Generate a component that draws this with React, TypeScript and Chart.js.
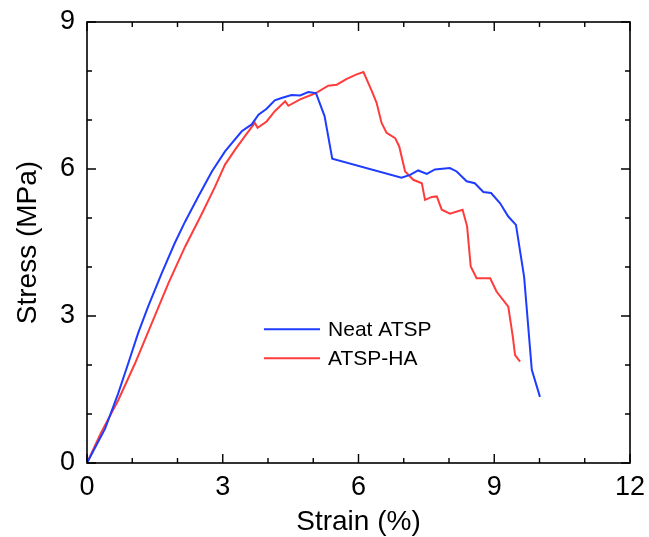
import React, { useEffect, useRef } from "react";
import { Chart, registerables } from "chart.js";

Chart.register(...registerables);

const seriesLabels = ["Neat ATSP", "ATSP-HA"];
const seriesColors = ["rgb(30,60,255)", "rgb(255,60,60)"];

const neatStrain = [0, 0.4, 0.69, 0.91, 1.13, 1.35, 1.65, 1.94, 2.17, 2.46, 2.76, 3.05, 3.42, 3.64, 3.79, 3.97, 4.15, 4.3, 4.52, 4.71, 4.89, 5.06, 5.25, 5.42, 6.95, 7.14, 7.32, 7.51, 7.69, 8.02, 8.17, 8.39, 8.57, 8.76, 8.93, 9.13, 9.31, 9.48, 9.66, 9.83, 10.01];
const neatStress = [0, 0.7, 1.42, 2.03, 2.65, 3.19, 3.87, 4.49, 4.93, 5.44, 5.95, 6.36, 6.77, 6.91, 7.11, 7.23, 7.4, 7.45, 7.51, 7.5, 7.57, 7.55, 7.08, 6.21, 5.82, 5.88, 5.97, 5.9, 5.99, 6.02, 5.95, 5.75, 5.71, 5.53, 5.51, 5.3, 5.03, 4.86, 3.8, 1.9, 1.35];

const haStrain = [0, 0.3, 0.69, 1.06, 1.43, 1.8, 2.17, 2.53, 2.83, 3.05, 3.27, 3.49, 3.71, 3.77, 3.97, 4.15, 4.38, 4.45, 4.71, 5.06, 5.33, 5.52, 5.74, 5.96, 6.11, 6.29, 6.4, 6.51, 6.62, 6.81, 6.9, 7.03, 7.21, 7.4, 7.47, 7.62, 7.73, 7.84, 8.02, 8.3, 8.4, 8.48, 8.61, 8.91, 9.05, 9.31, 9.41, 9.46, 9.57];
const haStress = [0, 0.6, 1.28, 2.03, 2.85, 3.67, 4.42, 5.07, 5.64, 6.09, 6.39, 6.67, 6.94, 6.84, 6.97, 7.18, 7.38, 7.29, 7.42, 7.55, 7.7, 7.72, 7.84, 7.93, 7.98, 7.6, 7.35, 6.94, 6.74, 6.63, 6.46, 5.95, 5.78, 5.71, 5.37, 5.43, 5.44, 5.17, 5.09, 5.17, 4.83, 4.01, 3.77, 3.77, 3.5, 3.19, 2.58, 2.2, 2.07];

const xTitle = "Strain (%)";
const yTitle = "Stress (MPa)";
const xMin = 0, xMax = 12, xStep = 3;
const yMin = 0, yMax = 9, yStep = 3;

const FONT = "'Liberation Sans', Arial, sans-serif";

const framePlugin = {
  id: "frameTicks",
  afterDraw(chart: any) {
    const { ctx, chartArea } = chart;
    const xs = chart.scales.x;
    const ys = chart.scales.y;
    const { left, right, top, bottom } = chartArea;
    ctx.save();
    ctx.strokeStyle = "#000";
    ctx.lineWidth = 1.6;
    ctx.strokeRect(left, top, right - left, bottom - top);
    ctx.lineWidth = 1.4;
    for (let v = xMin; v <= xMax; v += 1) {
      const px = xs.getPixelForValue(v);
      const len = v % xStep === 0 ? 9 : 5;
      ctx.beginPath();
      ctx.moveTo(px, bottom);
      ctx.lineTo(px, bottom - len);
      ctx.moveTo(px, top);
      ctx.lineTo(px, top + len);
      ctx.stroke();
    }
    for (let v = yMin; v <= yMax; v += 1) {
      const py = ys.getPixelForValue(v);
      const len = v % yStep === 0 ? 9 : 5;
      ctx.beginPath();
      ctx.moveTo(left, py);
      ctx.lineTo(left + len, py);
      ctx.moveTo(right, py);
      ctx.lineTo(right - len, py);
      ctx.stroke();
    }
    // legend inside plot
    const lx0 = xs.getPixelForValue(3.91);
    const lx1 = xs.getPixelForValue(5.15);
    const ly = ys.getPixelForValue(2.73);
    ctx.font = `21px ${FONT}`;
    ctx.textBaseline = "middle";
    ctx.textAlign = "left";
    chart.data.datasets.forEach((ds: any, i: number) => {
      const y = ly + i * 29;
      ctx.strokeStyle = ds.borderColor;
      ctx.lineWidth = 2;
      ctx.beginPath();
      ctx.moveTo(lx0, y);
      ctx.lineTo(lx1, y);
      ctx.stroke();
      ctx.fillStyle = "#000";
      ctx.fillText(ds.label, lx1 + 8, y + 1);
    });
    ctx.restore();
  },
};

export default function App() {
  const ref = useRef<HTMLCanvasElement | null>(null);
  useEffect(() => {
    if (!ref.current) return;
    const chart = new Chart(ref.current, {
      type: "line",
      data: {
        datasets: [
          {
            label: seriesLabels[0],
            data: neatStrain.map((x, i) => ({ x, y: neatStress[i] })),
            borderColor: seriesColors[0],
            backgroundColor: seriesColors[0],
            borderWidth: 2,
            pointRadius: 0,
            tension: 0,
          },
          {
            label: seriesLabels[1],
            data: haStrain.map((x, i) => ({ x, y: haStress[i] })),
            borderColor: seriesColors[1],
            backgroundColor: seriesColors[1],
            borderWidth: 2,
            pointRadius: 0,
            tension: 0,
          },
        ],
      },
      options: {
        animation: false,
        responsive: true,
        maintainAspectRatio: false,
        layout: { padding: { left: 0, right: 19, top: 22, bottom: 0 } },
        plugins: { legend: { display: false }, tooltip: { enabled: false } },
        scales: {
          x: {
            type: "linear",
            min: xMin,
            max: xMax,
            grid: { display: false, drawTicks: false },
            border: { display: false },
            ticks: { stepSize: xStep, color: "#000", padding: 8, font: { size: 27, family: FONT } },
            title: { display: true, text: xTitle, color: "#000", font: { size: 28, family: FONT }, padding: { top: 0, bottom: -2 } },
            afterFit: (s: any) => { s.height = 74; s.paddingLeft = 0; s.paddingRight = 0; },
          },
          y: {
            type: "linear",
            min: yMin,
            max: yMax,
            grid: { display: false, drawTicks: false },
            border: { display: false },
            ticks: { stepSize: yStep, color: "#000", padding: 12, font: { size: 27, family: FONT } },
            title: { display: true, text: yTitle, color: "#000", font: { size: 28, family: FONT }, padding: { top: 11, bottom: 0 } },
            afterFit: (s: any) => { s.width = 87; s.paddingTop = 0; s.paddingBottom = 0; },
          },
        },
      },
      plugins: [framePlugin],
    });
    return () => chart.destroy();
  }, []);
  return (
    <div style={{ position: "fixed", left: 0, top: 0, width: 649, height: 537, background: "#fff" }}>
      <canvas ref={ref} />
    </div>
  );
}
